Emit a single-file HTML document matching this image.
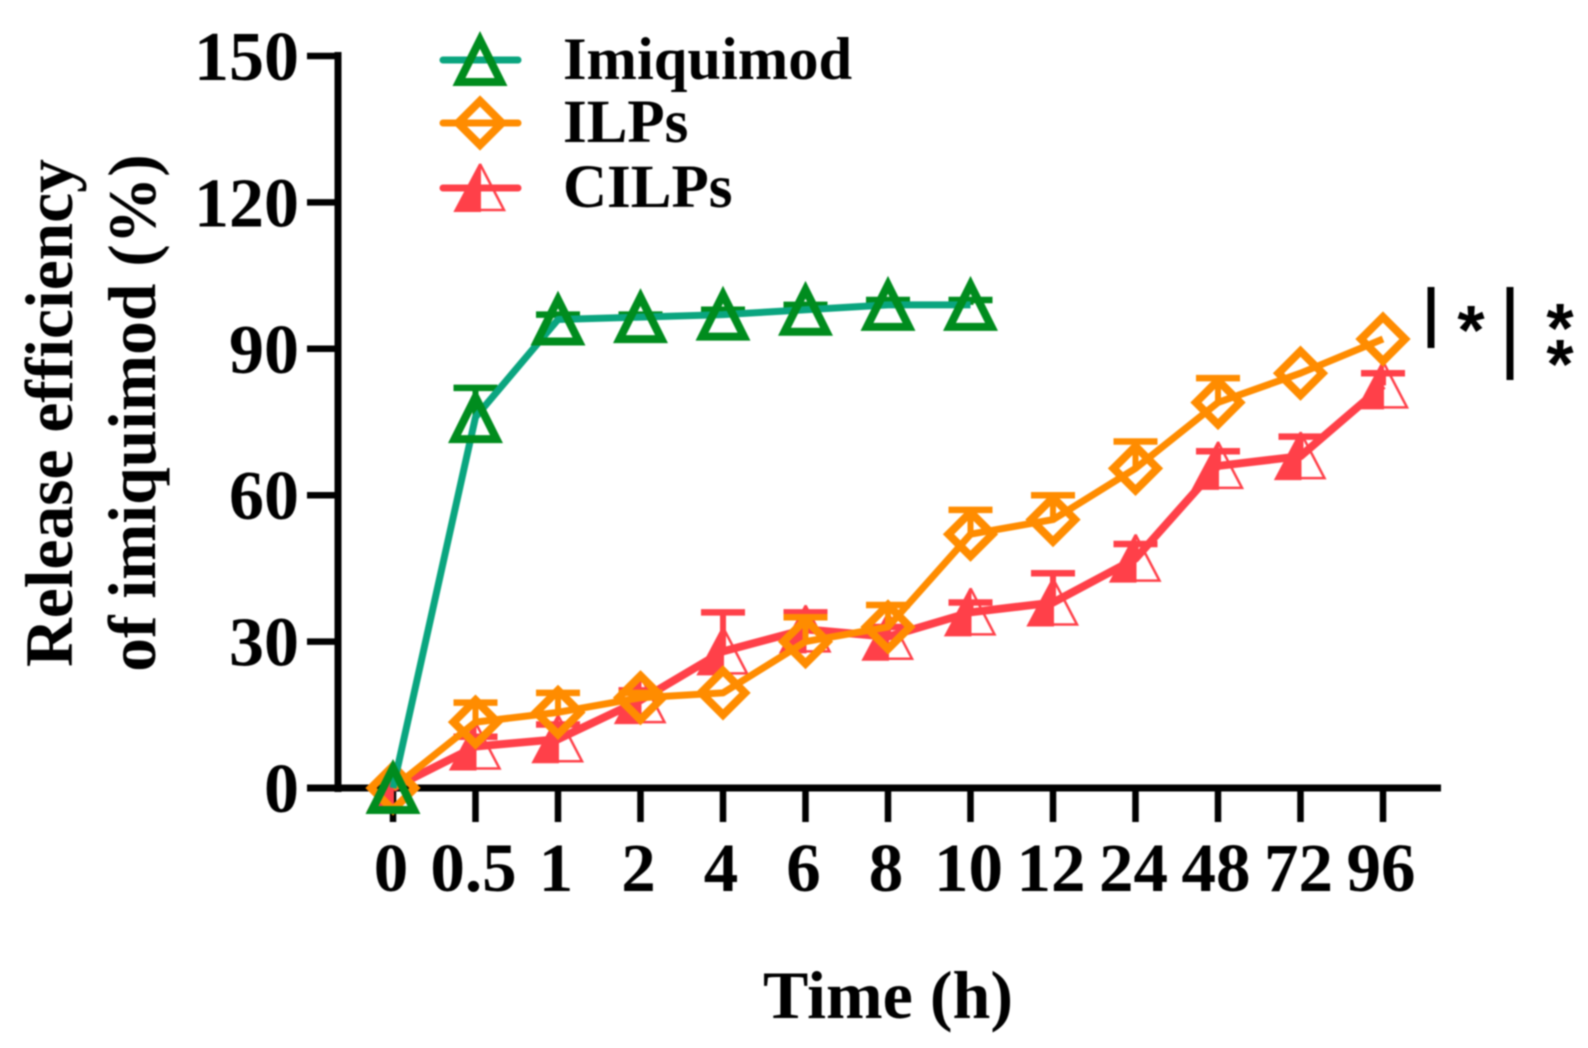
<!DOCTYPE html>
<html lang="en">
<head>
<meta charset="utf-8">
<title>Release efficiency of imiquimod</title>
<style>
html,body{margin:0;padding:0;background:#fff;width:1588px;height:1048px;overflow:hidden}
svg{display:block;filter:blur(0.9px)}
text{font-family:"Liberation Serif",serif;font-weight:bold;fill:#000}
</style>
</head>
<body>
<svg id="chart" width="1588" height="1048" viewBox="0 0 1588 1048" xmlns="http://www.w3.org/2000/svg">
  <text transform="translate(72 413) rotate(-90)" text-anchor="middle" font-size="67.5">Release efficiency</text>
  <text transform="translate(155 413) rotate(-90)" text-anchor="middle" font-size="67.5">of imiquimod (%)</text>
  <text x="888" y="1018" text-anchor="middle" font-size="68">Time (h)</text>
  <text x="563" y="79" font-size="60.5">Imiquimod</text>
  <text x="563" y="142" font-size="61">ILPs</text>
  <text x="563" y="207" font-size="61">CILPs</text>
  <line x1="1431" y1="287" x2="1431" y2="348" stroke="#000" stroke-width="7"/>
  <line x1="1510" y1="287" x2="1510" y2="380" stroke="#000" stroke-width="7"/>
  <text x="1471" y="354" text-anchor="middle" font-size="70" style="font-family:'Liberation Sans',sans-serif">*</text>
  <text x="1560" y="352" text-anchor="middle" font-size="70" style="font-family:'Liberation Sans',sans-serif">*</text>
  <text x="1560" y="388" text-anchor="middle" font-size="70" style="font-family:'Liberation Sans',sans-serif">*</text>
</svg>
<script>
const categories = ['0','0.5','1','2','4','6','8','10','12','24','48','72','96'];
const yTicks = [0,30,60,90,120,150];
const imiquimodValues = [0,76,96,96.5,97,98,99,99];
const imiquimodTops = [0,82,97,97,98,99,100,100];
const ilpsValues = [0,13.5,15.5,18.5,19.5,30,33,52,55,65.5,79,85,92];
const ilpsTops = [0,17.5,19.5,19.5,19.5,35,37.5,57,60,71,84,85,92];
const cilpsValues = [0,8.5,10,18,28,32.5,31,36,38,47,66,68,82.5];
const cilpsTops = [0,10.5,13,20,36,36,33,38,44,50,69,72,85];

const svg = document.getElementById('chart');
const NS = 'http://www.w3.org/2000/svg';
function xScale(i){ return 393 + i * 82.5; }
function yScale(v){ return 788 - v * (732 / 150); }
function make(tag, attrs){
  const el = document.createElementNS(NS, tag);
  for (const k in attrs) el.setAttribute(k, attrs[k]);
  svg.appendChild(el);
  return el;
}
function triangleOutline(cx, cy, color, sw){
  return make('path', {d:`M${cx} ${cy-20}L${cx+21} ${cy+22}L${cx-21} ${cy+22}Z`, fill:'none', stroke:color, 'stroke-width':sw, 'stroke-linejoin':'miter'});
}
function halfTriangle(cx, cy, color){
  const g = [];
  g.push(make('path', {d:`M${cx} ${cy-24}L${cx} ${cy+23}L${cx-25} ${cy+23}Z`, fill:color, stroke:color, 'stroke-width':2}));
  g.push(make('path', {d:`M${cx} ${cy-24}L${cx+24} ${cy+22}L${cx} ${cy+22}`, fill:'none', stroke:color, 'stroke-width':2.5}));
  return g;
}
function diamond(cx, cy, color){
  return make('path', {d:`M${cx} ${cy-22}L${cx+22} ${cy}L${cx} ${cy+22}L${cx-22} ${cy}Z`, fill:'none', stroke:color, 'stroke-width':8, 'stroke-linejoin':'miter'});
}
function drawSeries(name, values, tops, lineColor, markColor, lineWidth, markerFn){
  values.forEach(function(v, i){
    if (tops[i] <= v) return;
    const stem = make('line', {x1:xScale(i), x2:xScale(i), y1:yScale(v), y2:yScale(tops[i]), stroke:markColor, 'stroke-width':6});
    
    
    const cap = make('line', {x1:xScale(i)-22, x2:xScale(i)+22, y1:yScale(tops[i]), y2:yScale(tops[i]), stroke:markColor, 'stroke-width':6.5});
    
    
  });
  const pts = values.map(function(v, i){ return xScale(i) + ',' + yScale(v); }).join(' ');
  const line = make('polyline', {points:pts, fill:'none', stroke:lineColor, 'stroke-width':lineWidth, 'stroke-linejoin':'round'});
  
  
  values.forEach(function(v, i){
    const m = markerFn(xScale(i), yScale(v));
    [].concat(m).forEach(function(el){
      
      
    });
  });
}

// axes
const yAxis = make('line', {x1:338, x2:338, y1:52, y2:792, stroke:'#000', 'stroke-width':7});


const xAxis = make('line', {x1:307, x2:1441, y1:788, y2:788, stroke:'#000', 'stroke-width':7});


yTicks.forEach(function(t){
  const tick = make('line', {x1:307, x2:338, y1:yScale(t), y2:yScale(t), stroke:'#000', 'stroke-width':6.5});
  
  
  const label = make('text', {x:299, y:yScale(t)+24, 'text-anchor':'end', 'font-size':70});
  label.textContent = t;
  
  
});
categories.forEach(function(c, i){
  const tick = make('line', {x1:xScale(i), x2:xScale(i), y1:788, y2:822, stroke:'#000', 'stroke-width':6.5});
  
  
  const label = make('text', {x:xScale(i)-2, y:891, 'text-anchor':'middle', 'font-size':69});
  label.textContent = c;
  
  
});

// series
const RED = '#ff4049', ORANGE = '#ff8c00', GREEN = '#008c1e', TEAL = '#0aa57f';
drawSeries('cilps', cilpsValues, cilpsTops, RED, RED, 8, function(x, y){ return halfTriangle(x, y, RED); });
drawSeries('ilps', ilpsValues, ilpsTops, ORANGE, ORANGE, 7, function(x, y){ return diamond(x, y, ORANGE); });
drawSeries('imiquimod', imiquimodValues, imiquimodTops, TEAL, GREEN, 7, function(x, y){ return triangleOutline(x, y, GREEN, 8); });

// legend keys
const legendLine1 = make('line', {x1:443, x2:518, y1:60, y2:60, stroke:TEAL, 'stroke-width':7, 'stroke-linecap':'round'});


const legendMarker1 = triangleOutline(480, 60, GREEN, 8);


const legendLine2 = make('line', {x1:443, x2:518, y1:123, y2:123, stroke:ORANGE, 'stroke-width':7, 'stroke-linecap':'round'});


const legendMarker2 = diamond(480, 123, ORANGE);


const legendLine3 = make('line', {x1:443, x2:518, y1:188, y2:188, stroke:RED, 'stroke-width':7, 'stroke-linecap':'round'});


halfTriangle(480, 188, RED).forEach(function(el){
  
  
});
</script>
</body>
</html>
